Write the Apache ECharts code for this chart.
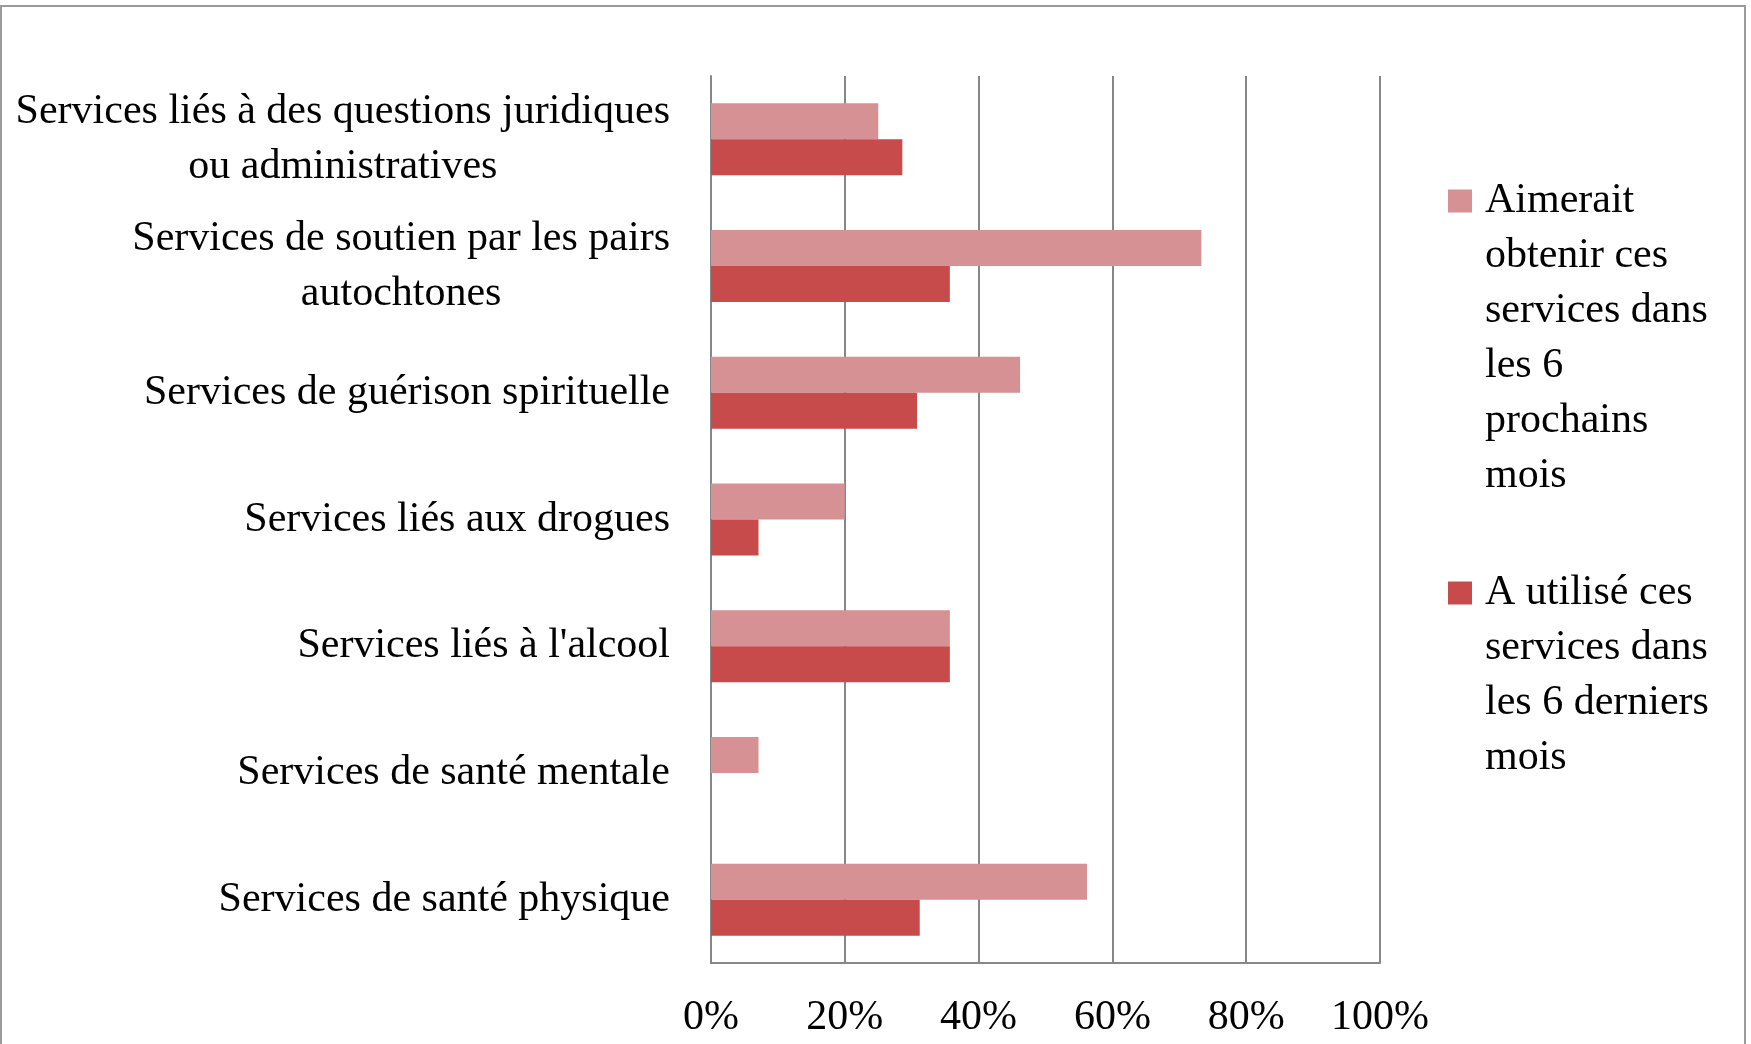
<!DOCTYPE html>
<html>
<head>
<meta charset="utf-8">
<script src="https://cdn.jsdelivr.net/npm/echarts@6/dist/echarts.min.js"></script>
<style>
    html, body { margin: 0; padding: 0; background: #fff; }
    #frame {
        position: absolute; left: 0; top: 5px;
        width: 1742px; height: 1060px;
        border: 2px solid #9a9a9a;
    }
    #bar-chart { position: absolute; left: 0; top: 0; width: 1751px; height: 1044px; }
</style>
</head>
<body>
<div id="frame"></div>
<div id="bar-chart"></div>
<script>
    // categories, top to bottom
    const categories = [
        'Services liés à des questions juridiques\nou administratives',
        'Services de soutien par les pairs\nautochtones',
        'Services de guérison spirituelle',
        'Services liés aux drogues',
        "Services liés à l'alcool",
        'Services de santé mentale',
        'Services de santé physique'
    ]
    const wantName = 'Aimerait obtenir ces services dans les 6 prochains mois'
    const usedName = 'A utilisé ces services dans les 6 derniers mois'
    // percentages
    const wantValues = [25.0, 73.3, 46.2, 20.0, 35.7, 7.1, 56.2]
    const usedValues = [28.6, 35.7, 30.8, 7.1, 35.7, 0, 31.2]
    const xTicks = [0, 20, 40, 60, 80, 100]

    // legend text broken like the original
    const wantLines = ['Aimerait', 'obtenir ces', 'services dans', 'les 6', 'prochains', 'mois']
    const usedLines = ['A utilisé ces', 'services dans', 'les 6 derniers', 'mois']

    const FONT = 'Liberation Serif'
    const FS = 42
    const LH = 55

    function legendFor(name, lines, iconY) {
        // rich text + top padding so the first line sits beside the icon
        const n = lines.length
        return {
            data: [name],
            orient: 'vertical',
            left: 1448,
            top: iconY - (2 * n - 1) * LH / 2,
            padding: 0,
            itemWidth: 24,
            itemHeight: 23,
            icon: 'rect',
            formatter: () => lines.map(s => '{t|' + s + '}').join('\n'),
            textStyle: {
                fontFamily: FONT,
                fontSize: FS,
                color: '#000',
                lineHeight: LH,
                padding: [(n - 1) * LH, 0, 0, 8],
                rich: {
                    t: { fontFamily: FONT, fontSize: FS, lineHeight: LH, color: '#000' }
                }
            }
        }
    }

    const myChart = echarts.init(document.getElementById('bar-chart'))
    myChart.setOption({
        animation: false,
        grid: {
            left: 711,
            right: 371,
            top: 76,
            bottom: 81,
            containLabel: false
        },
        legend: [
            legendFor(wantName, wantLines, 201),
            legendFor(usedName, usedLines, 593)
        ],
        xAxis: {
            type: 'value',
            min: 0,
            max: 100,
            interval: 20,
            axisLine: { show: true, lineStyle: { color: '#878787', width: 2 } },
            axisTick: { show: false },
            splitLine: { show: true, lineStyle: { color: '#878787', width: 2 } },
            axisLabel: {
                margin: 34,
                fontFamily: FONT,
                fontSize: FS,
                color: '#000',
                formatter: v => xTicks.indexOf(v) >= 0 ? v + '%' : ''
            }
        },
        yAxis: {
            type: 'category',
            inverse: true,
            data: categories,
            axisLine: { show: true, lineStyle: { color: '#878787', width: 2 } },
            axisTick: { show: false },
            axisLabel: {
                margin: 41,
                fontFamily: FONT,
                fontSize: FS,
                color: '#000',
                lineHeight: LH,
                formatter: v => v.split('\n').map(s => '{c|' + s + '}').join('\n'),
                rich: {
                    c: { align: 'center', fontFamily: FONT, fontSize: FS, lineHeight: LH, color: '#000' }
                }
            }
        },
        series: [
            {
                name: wantName,
                type: 'bar',
                data: wantValues,
                barWidth: 36,
                barGap: '0%',
                itemStyle: { color: '#D59193' }
            },
            {
                name: usedName,
                type: 'bar',
                data: usedValues,
                barWidth: 36,
                barGap: '0%',
                itemStyle: { color: '#C64B4A' }
            }
        ]
    })
</script>
</body>
</html>
